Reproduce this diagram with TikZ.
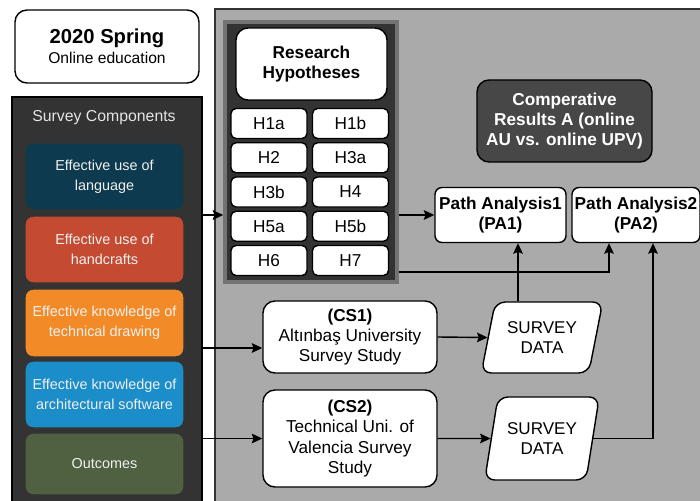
\documentclass[tikz,border=0pt]{standalone}
\usepackage{fontspec}
\setmainfont{Liberation Sans}
\usetikzlibrary{shapes.geometric, arrows.meta}
\definecolor{langc}{HTML}{0E3A4F}
\definecolor{handc}{HTML}{C44B31}
\definecolor{drawc}{HTML}{F28B27}
\definecolor{softc}{HTML}{1B8DC9}
\definecolor{outc}{HTML}{4F6141}
\definecolor{panelc}{HTML}{AAAAAA}
\definecolor{darkc}{HTML}{333333}
\definecolor{resc}{HTML}{474747}

\begin{document}
\begin{tikzpicture}[>={Stealth[length = 6pt, width = 5.5pt, inset = 1pt]}, line width = .8pt,
	wbox/.style = {draw = black, fill = white, rounded corners = .2cm, align = center, inner sep = 0pt, font = \fontsize{9.8}{11.6}\selectfont},
	hcell/.style = {wbox, rounded corners = .1cm, minimum width = 1.52cm, minimum height = .6cm},
	cbox/.style = {draw = black!80, rounded corners = .16cm, align = center, inner sep = 0pt, text = white!94!black, minimum width = 3.18cm, minimum height = 1.34cm, font = \fontsize{8.2}{11.3}\selectfont},
	sdata/.style = {trapezium, trapezium left angle = 72, trapezium right angle = 108, trapezium stretches = true, draw = black, fill = white, rounded corners = .2cm, align = center, inner sep = 0pt, font = \fontsize{9.7}{11.5}\selectfont}]
	\useasboundingbox (0,0) rectangle (14,-10.02);
	% panels
	\draw[draw = darkc, fill = panelc] (4.3,-.18) rectangle (14.2,-10.2);
	\node[draw = black, fill = darkc, minimum width = 3.8cm, minimum height = 8.26cm] (comp) at (2.14,-6.07) {};
	\node[draw = black!55, line width = 2pt, fill = darkc, minimum width = 3.44cm, minimum height = 5.2cm] (hyp) at (6.22,-3.04) {};
	\node[text = white!90!black, font = \fontsize{9}{11}\selectfont] (title) at (2.08,-2.36) {Survey Components};
	\node[wbox, minimum width = 3.68cm, minimum height = 1.46cm, rounded corners = .24cm, font = \fontsize{8.9}{11.3}\selectfont] (spring) at (2.14,-.93) {{\fontsize{11.5}{13}\selectfont\bfseries 2020 Spring}\\Online education};
	% survey components
	\node[cbox, fill = langc] (lang) at (2.09,-3.53) {Effective use of\\language};
	\node[cbox, fill = handc] (hand) at (2.09,-4.99) {Effective use of\\handcrafts};
	\node[cbox, fill = drawc, minimum height = 1.36cm] (tdraw) at (2.09,-6.46) {Effective knowledge of\\technical drawing};
	\node[cbox, fill = softc] (soft) at (2.09,-7.89) {Effective knowledge of\\architectural software};
	\node[cbox, fill = outc, minimum height = 1.24cm] (outcome) at (2.09,-9.28) {Outcomes};
	% hypotheses
	\node[wbox, minimum width = 3.02cm, minimum height = 1.44cm, rounded corners = .24cm] (research) at (6.23,-1.28) {\bfseries Research\\\bfseries Hypotheses};
	\node[hcell] (h1a) at (5.38,-2.47) {H1a};
	\node[hcell] (h1b) at (7.01,-2.47) {H1b};
	\node[hcell] (h2) at (5.38,-3.155) {H2};
	\node[hcell] (h3a) at (7.01,-3.155) {H3a};
	\node[hcell] (h3b) at (5.38,-3.84) {H3b};
	\node[hcell] (h4) at (7.01,-3.84) {H4};
	\node[hcell] (h5a) at (5.38,-4.525) {H5a};
	\node[hcell] (h5b) at (7.01,-4.525) {H5b};
	\node[hcell] (h6) at (5.38,-5.21) {H6};
	\node[hcell] (h7) at (7.01,-5.21) {H7};
	% results and analyses
	\node[wbox, fill = resc, text = white, minimum width = 3.5cm, minimum height = 1.64cm, rounded corners = .24cm, font = \fontsize{9.8}{11.3}\selectfont\bfseries] (results) at (11.29,-2.42) {Comperative\\Results A (online\\AU vs. online UPV)};
	\node[wbox, minimum width = 2.62cm, minimum height = 1.1cm, rounded corners = .14cm, font = \fontsize{9.8}{11.5}\selectfont\bfseries] (pa1) at (10.01,-4.3) {Path Analysis1\\(PA1)};
	\node[wbox, minimum width = 2.56cm, minimum height = 1.1cm, rounded corners = .14cm, font = \fontsize{9.8}{11.5}\selectfont\bfseries] (pa2) at (12.72,-4.3) {Path Analysis2\\(PA2)};
	% case studies
	\node[wbox, minimum width = 3.48cm, minimum height = 1.44cm, rounded corners = .24cm] (cs1) at (7,-6.74) {\textbf{(CS1)}\\Altınbaş University\\Survey Study};
	\node[wbox, minimum width = 3.48cm, minimum height = 1.94cm, rounded corners = .24cm] (cs2) at (7,-8.77) {\textbf{(CS2)}\\Technical Uni. of\\Valencia Survey\\Study};
	\node[sdata, minimum width = 2.44cm, minimum height = 1.42cm] (sd1) at (10.84,-6.75) {SURVEY\\DATA};
	\node[sdata, minimum width = 2.3cm, minimum height = 1.66cm] (sd2) at (10.84,-8.77) {SURVEY\\DATA};
	% connectors
	\draw[->] (comp.east |- pa1) -- (hyp.west |- pa1);
	\draw[->] (hyp.east |- pa1) -- (pa1.west);
	\draw[->] (hyp.east |- 0,-5.44) -| ([xshift = -.54cm]pa2.south);
	\draw[->] ([xshift = -.48cm]sd1.north) -- ([xshift = -.48cm]sd1.north |- pa1.south);
	\draw[->] (sd2.east) -| ([xshift = .34cm]pa2.south);
	\draw[->] (cs1.east) -- (sd1.west);
	\draw[->] (cs2.east) -- (sd2.west);
	\draw[->] (comp.east |- 0,-6.96) -- (cs1.west |- 0,-6.96);
	\draw[->] (comp.east |- cs2) -- (cs2.west);
\end{tikzpicture}
\end{document}
